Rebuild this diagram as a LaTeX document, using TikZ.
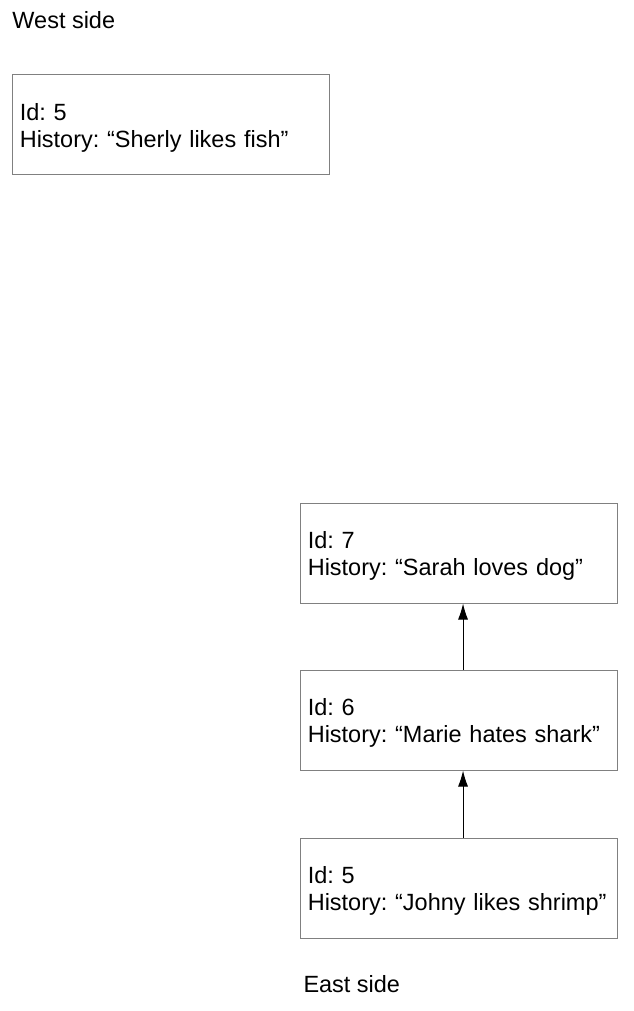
\documentclass[tikz,border=0pt]{standalone}
\usepackage{fontspec}
\setmainfont{Liberation Sans}
\usetikzlibrary{arrows.meta}

\tikzset{every picture/.style={line width=0.75pt}}
\tikzset{
  histbox/.style={draw=boxgray, line width=0.75pt, minimum width=237.75pt, minimum height=75pt,
    text width=226pt, text height=17.3pt, inner xsep=5.8pt, inner ysep=5pt,
    align=left, font=\fontsize{17.6pt}{20.3pt}\selectfont\frenchspacing},
  sidelbl/.style={anchor=base west, inner sep=0pt, font=\fontsize{17.6pt}{20.3pt}\selectfont},
  histarrow/.style={-{Latex[length=12pt,width=7.5pt]}, line width=0.75pt}
}
\definecolor{boxgray}{RGB}{128,128,128}

\begin{document}
\begin{tikzpicture}[x=0.75pt,y=0.75pt,yscale=-1,xscale=1]
\useasboundingbox (0,0) rectangle (633,1011);

% West side
\node [sidelbl] (westlbl) at (12,28) {West side};
\node [histbox] (west5) at (170.5,124.5) {Id: 5\\History: “Sherly likes fish”};

% East side
\node [histbox] (east7) at (458.5,553) {Id: 7\\History: “Sarah loves dog”};
\node [histbox] (east6) at (458.5,720) {Id: 6\\History: “Marie hates shark”};
\node [histbox] (east5) at (458.5,888) {Id: 5\\History: “Johny likes shrimp”};
\node [sidelbl] (eastlbl) at (303,992) {East side};

% history links
\draw [histarrow] ([xshift=3.4pt]east6.north) -- ([xshift=3.4pt]east7.south);
\draw [histarrow] ([xshift=3.4pt]east5.north) -- ([xshift=3.4pt]east6.south);

\end{tikzpicture}
\end{document}
